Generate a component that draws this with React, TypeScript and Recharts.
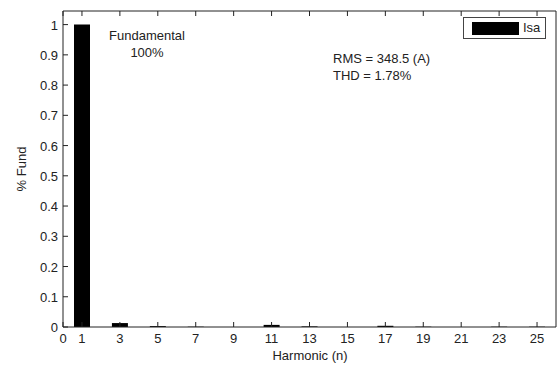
import { BarChart, Bar, XAxis, YAxis, Legend } from 'recharts'

const harmonics = [1, 3, 5, 7, 9, 11, 13, 15, 17, 19, 21, 23, 25]
const isaValues = [1.0, 0.013, 0.003, 0.001, 0.0, 0.007, 0.002, 0.0, 0.004, 0.001, 0.0, 0.001, 0.001]
const xTicks = [0, 1, 3, 5, 7, 9, 11, 13, 15, 17, 19, 21, 23, 25]
const yTicks = [0, 0.1, 0.2, 0.3, 0.4, 0.5, 0.6, 0.7, 0.8, 0.9, 1]

const FONT = '"Liberation Sans", Arial, Helvetica, sans-serif'
const TEXT = '#222'
const AXIS = '#222'

const data = harmonics.map((h, i) => ({ h, isa: isaValues[i] }))

function BottomTick(props: any) {
  const { x, y, payload } = props
  return (
    <g>
      <line x1={x} y1={y} x2={x} y2={y - 5} stroke={AXIS} />
      <text x={x} y={y + 16} textAnchor="middle" fontSize={13} fontFamily={FONT} fill={TEXT}>
        {payload.value}
      </text>
    </g>
  )
}

function TopTick(props: any) {
  const { x, y } = props
  return <line x1={x} y1={y} x2={x} y2={y + 5} stroke={AXIS} />
}

function LeftTick(props: any) {
  const { x, y, payload } = props
  return (
    <g>
      <line x1={x} y1={y} x2={x + 5} y2={y} stroke={AXIS} />
      <text x={x - 5} y={y + 5} textAnchor="end" fontSize={13} fontFamily={FONT} fill={TEXT}>
        {payload.value}
      </text>
    </g>
  )
}

function RightTick(props: any) {
  const { x, y } = props
  return <line x1={x} y1={y} x2={x - 5} y2={y} stroke={AXIS} />
}

function LegendBox() {
  return (
    <div style={{ width: 83, height: 22, border: '1px solid #444', background: '#fff', boxSizing: 'border-box', position: 'relative', fontFamily: FONT }}>
      <div style={{ position: 'absolute', left: 8, top: 4, width: 47, height: 13, background: '#000' }} />
      <div style={{ position: 'absolute', left: 59, top: 2, fontSize: 13, color: TEXT }}>Isa</div>
    </div>
  )
}

export default function App() {
  return (
    <div style={{ position: 'absolute', left: 0, top: 0, width: 559, height: 365, background: '#fff' }}>
      <BarChart width={559} height={365} data={data} margin={{ top: 10, right: 2, bottom: 0, left: 0 }}>
        <XAxis
          dataKey="h"
          type="number"
          domain={[0, 26]}
          ticks={xTicks}
          interval={0}
          height={38}
          tickSize={0}
          tickMargin={0}
          tickLine={false}
          tick={<BottomTick />}
          axisLine={{ stroke: AXIS }}
          allowDecimals={false}
        />
        <XAxis
          xAxisId="top"
          orientation="top"
          dataKey="h"
          type="number"
          domain={[0, 26]}
          ticks={xTicks}
          interval={0}
          height={1}
          tickSize={0}
          tickMargin={0}
          tickLine={false}
          tick={<TopTick />}
          axisLine={{ stroke: AXIS }}
        />
        <YAxis
          type="number"
          domain={[0, 1.045]}
          ticks={yTicks}
          interval={0}
          width={63}
          tickSize={0}
          tickMargin={0}
          tickLine={false}
          tick={<LeftTick />}
          axisLine={{ stroke: AXIS }}
          label={{ value: '% Fund', angle: -90, position: 'insideLeft', offset: 21, style: { fontSize: 13, fontFamily: FONT, fill: TEXT, textAnchor: 'middle' } }}
        />
        <YAxis
          yAxisId="right"
          orientation="right"
          type="number"
          domain={[0, 1.045]}
          ticks={yTicks}
          interval={0}
          width={1}
          tickSize={0}
          tickMargin={0}
          tickLine={false}
          tick={<RightTick />}
          axisLine={{ stroke: AXIS }}
        />
        <Legend
          verticalAlign="middle"
          align="center"
          content={() => <LegendBox />}
          wrapperStyle={{ position: 'absolute', left: 463, top: 17, width: 83 }}
        />
        <Bar dataKey="isa" name="Isa" fill="#000" barSize={16} isAnimationActive={false} />
        <text x={310} y={360} textAnchor="middle" fontSize={13} fontFamily={FONT} fill={TEXT}>Harmonic (n)</text>
        <text x={147} y={40} textAnchor="middle" fontSize={13} fontFamily={FONT} fill={TEXT}>Fundamental</text>
        <text x={147} y={57} textAnchor="middle" fontSize={13} fontFamily={FONT} fill={TEXT}>100%</text>
        <text x={333} y={63} fontSize={13} fontFamily={FONT} fill={TEXT}>RMS = 348.5 (A)</text>
        <text x={333} y={80} fontSize={13} fontFamily={FONT} fill={TEXT}>THD = 1.78%</text>
      </BarChart>
    </div>
  )
}
